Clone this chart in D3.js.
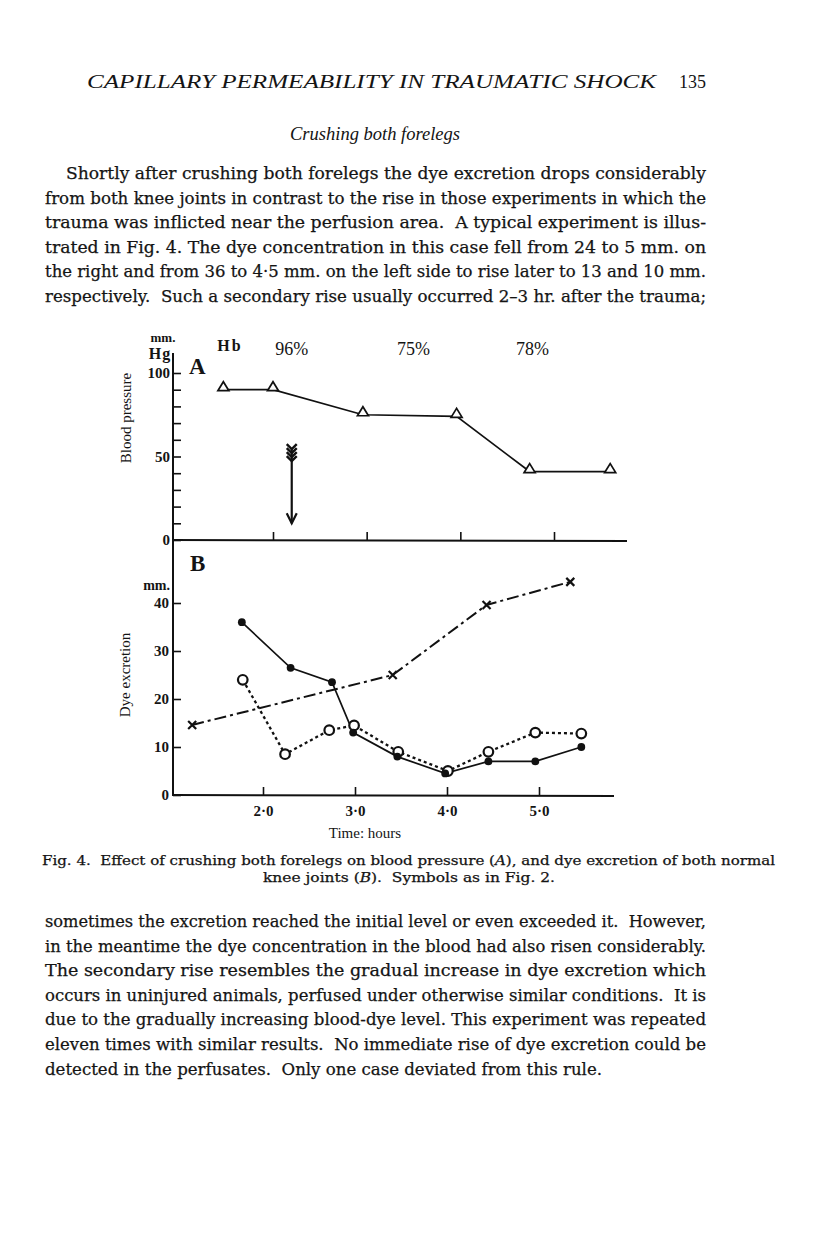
<!DOCTYPE html>
<html>
<head>
<meta charset="utf-8">
<script src="https://cdn.jsdelivr.net/npm/d3@7"></script>
<style>
  body { margin: 0; background: #fff; }
  text { font-family: "Liberation Serif", "DejaVu Serif", serif; fill: #141414; }
  .body { font-family: "DejaVu Serif", "Liberation Serif", serif; stroke: #141414; stroke-width: 0.25; }
</style>
</head>
<body>
<div id="page"></div>
<script>
// Fig. 4 values

// A: blood pressure (mm. Hg), open triangles
var bpTime  = [1.47, 2.0, 2.96, 3.96, 4.74, 5.6];
var bpValue = [90, 90, 75, 74, 41, 41];

// Hb readings written above panel A
var hbLabels = ["96%", "75%", "78%"];
var hbTime   = [2.2, 3.5, 4.77];

// crushing arrow (time, from / to in mm. Hg)
var arrowTime = 2.2, arrowFrom = 55, arrowTo = 10;

// B: dye excretion (mm.)
var leftTime  = [1.77, 2.30, 2.75, 2.98, 3.46, 3.98, 4.45, 4.96, 5.46];   // filled circles
var leftDye   = [36, 26.5, 23.5, 13, 8, 4.5, 7, 7, 10];
var rightTime = [1.78, 2.24, 2.72, 2.99, 3.47, 4.01, 4.45, 4.96, 5.46];   // open circles
var rightDye  = [24, 8.5, 13.5, 14.5, 9, 5, 9, 13, 12.8];
var bloodTime = [1.23, 3.41, 4.43, 5.34];                                  // crosses
var bloodDye  = [14.6, 25, 39.6, 44.4];

// ticks
var timeTicks = [2, 3, 4, 5];
var bpTicks   = [0, 10, 20, 30, 40, 50, 60, 70, 80, 90, 100];
var bpLabels  = [0, 50, 100];
var dyeTicks  = [0, 10, 20, 30, 40];

// page text
var header = "CAPILLARY PERMEABILITY IN TRAUMATIC SHOCK";
var pageNo = "135";
var subhead = "Crushing both forelegs";
var topLines = [
  "Shortly after crushing both forelegs the dye excretion drops considerably",
  "from both knee joints in contrast to the rise in those experiments in which the",
  "trauma was inflicted near the perfusion area.  A typical experiment is illus-",
  "trated in Fig. 4. The dye concentration in this case fell from 24 to 5 mm. on",
  "the right and from 36 to 4\u00b75 mm. on the left side to rise later to 13 and 10 mm.",
  "respectively.  Such a secondary rise usually occurred 2\u20133 hr. after the trauma;"
];
var bottomLines = [
  "sometimes the excretion reached the initial level or even exceeded it.  However,",
  "in the meantime the dye concentration in the blood had also risen considerably.",
  "The secondary rise resembles the gradual increase in dye excretion which",
  "occurs in uninjured animals, perfused under otherwise similar conditions.  It is",
  "due to the gradually increasing blood-dye level. This experiment was repeated",
  "eleven times with similar results.  No immediate rise of dye excretion could be",
  "detected in the perfusates.  Only one case deviated from this rule."
];

var W = 816, H = 1234;
var svg = d3.select("#page").append("svg")
  .attr("width", W).attr("height", H)
  .style("display", "block");
svg.append("rect").attr("width", W).attr("height", H).attr("fill", "#fff");

// ---------- page text ----------
var left = 45, right = 706, lead = 24.6;

svg.append("text").attr("x", 87).attr("y", 88)
  .attr("font-size", 18).attr("font-style", "italic")
  .attr("textLength", 569).attr("lengthAdjust", "spacingAndGlyphs")
  .text(header);
svg.append("text").attr("x", right).attr("y", 88)
  .attr("font-size", 18).attr("text-anchor", "end")
  .text(pageNo);
svg.append("text").attr("x", 290).attr("y", 140)
  .attr("font-size", 18).attr("font-style", "italic")
  .attr("textLength", 170).attr("lengthAdjust", "spacingAndGlyphs")
  .text(subhead);

topLines.forEach(function(s, i) {
  var x0 = i === 0 ? left + 21 : left;
  svg.append("text").attr("class", "body").attr("x", x0).attr("y", 179 + i * lead)
    .attr("font-size", 16.5).attr("xml:space", "preserve")
    .attr("textLength", right - x0).attr("lengthAdjust", "spacingAndGlyphs")
    .text(s);
});

bottomLines.forEach(function(s, i) {
  var last = i === bottomLines.length - 1;
  svg.append("text").attr("class", "body").attr("x", left).attr("y", 927 + i * lead)
    .attr("font-size", 16.5).attr("xml:space", "preserve")
    .attr("textLength", last ? 557 : right - left).attr("lengthAdjust", "spacingAndGlyphs")
    .text(s);
});

// caption
var cap1 = svg.append("text").attr("class", "body").attr("x", 42).attr("y", 865).attr("font-size", 12.5)
  .attr("xml:space", "preserve")
  .attr("textLength", 733).attr("lengthAdjust", "spacingAndGlyphs");
cap1.append("tspan").text("Fig. 4.  Effect of crushing both forelegs on blood pressure (");
cap1.append("tspan").attr("font-style", "italic").text("A");
cap1.append("tspan").text("), and dye excretion of both normal");
var cap2 = svg.append("text").attr("class", "body").attr("x", 263).attr("y", 882).attr("font-size", 12.5)
  .attr("xml:space", "preserve")
  .attr("textLength", 292).attr("lengthAdjust", "spacingAndGlyphs");
cap2.append("tspan").text("knee joints (");
cap2.append("tspan").attr("font-style", "italic").text("B");
cap2.append("tspan").text(").  Symbols as in Fig. 2.");

// ---------- chart ----------
var axisX = 173;
var xA = d3.scaleLinear().domain([2, 5]).range([273, 554]);
var yA = d3.scaleLinear().domain([0, 100]).range([540, 373]);
var xB = d3.scaleLinear().domain([2, 5]).range([263, 539]);
var yB = d3.scaleLinear().domain([0, 40]).range([795, 603]);

var ink = "#111";
var chart = svg.append("g");

// main vertical axis line (shared by A and B) and the two time axes
chart.append("line").attr("x1", axisX).attr("x2", axisX).attr("y1", 353).attr("y2", yB(0) + 1)
  .attr("stroke", ink).attr("stroke-width", 2);
chart.append("line").attr("x1", axisX).attr("x2", 627).attr("y1", yA(0)).attr("y2", yA(0) + 1)
  .attr("stroke", ink).attr("stroke-width", 2);
chart.append("line").attr("x1", axisX).attr("x2", 614).attr("y1", yB(0)).attr("y2", yB(0) + 1)
  .attr("stroke", ink).attr("stroke-width", 2);

function styleAxis(g, size) {
  g.select(".domain").remove();
  g.selectAll(".tick line").attr("stroke", ink).attr("stroke-width", 1.6);
  g.selectAll(".tick text").attr("fill", ink).attr("font-family", "Liberation Serif, serif")
    .attr("font-weight", "bold").attr("font-size", size);
}

// A y-axis
chart.append("g").attr("transform", "translate(" + axisX + ",0)")
  .call(d3.axisLeft(yA).tickValues(bpTicks).tickSize(-8).tickPadding(3)
    .tickFormat(function(d) { return bpLabels.indexOf(d) >= 0 ? d : ""; }))
  .call(styleAxis, 15);

// A x-axis ticks (no labels)
chart.append("g").attr("transform", "translate(0," + yA(0) + ")")
  .call(d3.axisBottom(xA).tickValues(timeTicks).tickSize(-8).tickFormat(""))
  .call(styleAxis, 15);

// B y-axis
chart.append("g").attr("transform", "translate(" + axisX + ",0)")
  .call(d3.axisLeft(yB).tickValues(dyeTicks).tickSize(-8).tickPadding(4))
  .call(styleAxis, 15);

// B x-axis
chart.append("g").attr("transform", "translate(0," + yB(0) + ")")
  .call(d3.axisBottom(xB).tickValues(timeTicks).tickSize(-8).tickPadding(10)
    .tickFormat(function(d) { return d.toFixed(1).replace(".", "\u00b7"); }))
  .call(styleAxis, 15);

// axis titles and panel labels
chart.append("text").attr("transform", "translate(131,418) rotate(-90)")
  .attr("text-anchor", "middle").attr("font-size", 15).text("Blood pressure");
chart.append("text").attr("transform", "translate(130,675) rotate(-90)")
  .attr("text-anchor", "middle").attr("font-size", 15).text("Dye excretion");
chart.append("text").attr("x", 365).attr("y", 838).attr("text-anchor", "middle")
  .attr("font-size", 15).text("Time: hours");

chart.append("text").attr("x", 163).attr("y", 342).attr("text-anchor", "middle")
  .attr("font-size", 13).attr("font-weight", "bold").text("mm.");
chart.append("text").attr("x", 160).attr("y", 359).attr("text-anchor", "middle")
  .attr("font-size", 16).attr("font-weight", "bold").attr("letter-spacing", 1).text("Hg");
chart.append("text").attr("x", 189).attr("y", 374)
  .attr("font-size", 23).attr("font-weight", "bold").text("A");
chart.append("text").attr("x", 190).attr("y", 571)
  .attr("font-size", 23).attr("font-weight", "bold").text("B");
chart.append("text").attr("x", 170).attr("y", 590).attr("text-anchor", "end")
  .attr("font-size", 14).attr("font-weight", "bold").text("mm.");

chart.append("text").attr("x", 230).attr("y", 351).attr("text-anchor", "middle")
  .attr("font-size", 16).attr("font-weight", "bold").attr("letter-spacing", 2).text("Hb");
chart.selectAll(".hb").data(hbLabels).enter().append("text")
  .attr("x", function(d, i) { return xA(hbTime[i]); })
  .attr("y", 355).attr("text-anchor", "middle").attr("font-size", 18)
  .text(function(d) { return d; });

// ---------- panel A: blood pressure ----------
var bp = bpTime.map(function(t, i) { return [t, bpValue[i]]; });
chart.append("path")
  .attr("d", d3.line().x(function(d) { return xA(d[0]); }).y(function(d) { return yA(d[1]); })(bp))
  .attr("fill", "none").attr("stroke", ink).attr("stroke-width", 1.7);
chart.selectAll(".tri").data(bp).enter().append("path")
  .attr("d", function(d) {
    var x = xA(d[0]), y = yA(d[1]) + 1;
    return "M" + (x - 5.5) + "," + y + "L" + x + "," + (y - 9) + "L" + (x + 5.5) + "," + y + "Z";
  })
  .attr("fill", "#fff").attr("stroke", ink).attr("stroke-width", 1.7);

// crushing arrow
var ax = xA(arrowTime), ay0 = yA(arrowFrom), ay1 = yA(arrowTo);
chart.append("line").attr("x1", ax).attr("x2", ax).attr("y1", ay0).attr("y2", ay1)
  .attr("stroke", ink).attr("stroke-width", 2.2);
chart.append("path")
  .attr("d", "M" + (ax - 5) + "," + (ay1 - 10) + "L" + ax + "," + ay1 + "L" + (ax + 5) + "," + (ay1 - 10))
  .attr("fill", "none").attr("stroke", ink).attr("stroke-width", 2.2);
[0, 4, 8, 12].forEach(function(k) {
  chart.append("path")
    .attr("d", "M" + (ax - 5) + "," + (ay0 - 4 + k) + "L" + ax + "," + (ay0 + 1 + k) + "L" + (ax + 5) + "," + (ay0 - 4 + k))
    .attr("fill", "none").attr("stroke", ink).attr("stroke-width", 2.4);
});

// ---------- panel B: dye excretion ----------
function pts(ts, vs) { return ts.map(function(t, i) { return [t, vs[i]]; }); }
var lineB = d3.line().x(function(d) { return xB(d[0]); }).y(function(d) { return yB(d[1]); });

var blood = pts(bloodTime, bloodDye);
var leftK = pts(leftTime, leftDye);
var rightK = pts(rightTime, rightDye);

chart.append("path").attr("d", lineB(blood))
  .attr("fill", "none").attr("stroke", ink).attr("stroke-width", 2)
  .attr("stroke-dasharray", "12,4,3,4");
chart.append("path").attr("d", lineB(rightK))
  .attr("fill", "none").attr("stroke", ink).attr("stroke-width", 2.3)
  .attr("stroke-dasharray", "3,3");
chart.append("path").attr("d", lineB(leftK))
  .attr("fill", "none").attr("stroke", ink).attr("stroke-width", 1.7);

chart.selectAll(".cross").data(blood).enter().append("path")
  .attr("d", function(d) {
    var x = xB(d[0]), y = yB(d[1]);
    return "M" + (x - 4) + "," + (y - 4) + "L" + (x + 4) + "," + (y + 4) +
           "M" + (x + 4) + "," + (y - 4) + "L" + (x - 4) + "," + (y + 4);
  })
  .attr("stroke", ink).attr("stroke-width", 2.2);

chart.selectAll(".open").data(rightK).enter().append("circle")
  .attr("cx", function(d) { return xB(d[0]); })
  .attr("cy", function(d) { return yB(d[1]); })
  .attr("r", 4.8).attr("fill", "#fff").attr("stroke", ink).attr("stroke-width", 2.2);

chart.selectAll(".dot").data(leftK).enter().append("circle")
  .attr("cx", function(d) { return xB(d[0]); })
  .attr("cy", function(d) { return yB(d[1]); })
  .attr("r", 3.9).attr("fill", ink);
</script>
</body>
</html>
